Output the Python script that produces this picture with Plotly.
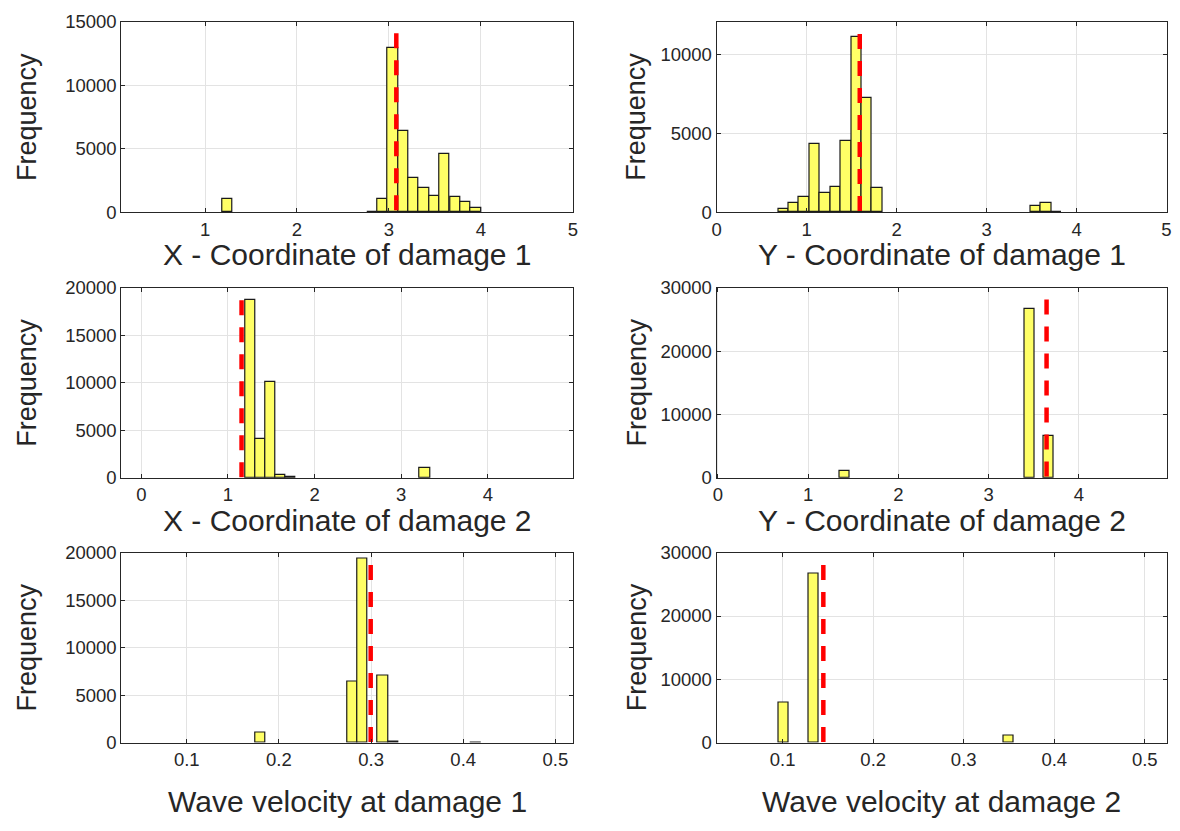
import plotly.graph_objects as go
from plotly.subplots import make_subplots

# ---------------- data ----------------
x1_centers = [1.244, 2.819, 2.931, 3.044, 3.156, 3.269, 3.381, 3.494, 3.606, 3.719, 3.831, 3.944]
x1_counts = [1025, 60, 1025, 12950, 6410, 2720, 1920, 1280, 4615, 1180, 850, 330]
x1_width = 0.1125
x1_true = 3.08
x1_line_top = 14100

y1_centers = [0.742, 0.858, 0.974, 1.090, 1.206, 1.322, 1.438, 1.553, 1.669, 1.785, 3.547, 3.664, 3.781]
y1_counts = [250, 575, 1006, 4312, 1232, 1600, 4538, 11088, 7207, 1520, 431, 575, 60]
y1_width = 0.116
y1_true = 1.591
y1_line_top = 11270

x2_centers = [1.255, 1.373, 1.490, 1.606, 1.724, 3.272]
x2_counts = [18700, 4090, 10090, 270, 140, 1090]
x2_width = 0.118
x2_true = 1.157
x2_line_top = 18700

y2_centers = [1.403, 3.453, 3.668]
y2_counts = [1180, 26720, 6560]
y2_width = 0.113
y2_true = 3.641
y2_line_top = 28150

v1_centers = [0.1799, 0.2801, 0.2908, 0.3128, 0.3240, 0.4137]
v1_counts = [1060, 6485, 19390, 7100, 100, 60]
v1_width = 0.0111
v1_true = 0.2996
v1_line_top = 18700

v2_centers = [0.1006, 0.1344, 0.3496]
v2_counts = [6350, 26625, 1075]
v2_width = 0.0108
v2_true = 0.1449
v2_line_top = 28060

titles = ["X - Coordinate of damage 1", "Y - Coordinate of damage 1",
          "X - Coordinate of damage 2", "Y - Coordinate of damage 2",
          "Wave velocity at damage 1", "Wave velocity at damage 2"]
y_label = "Frequency"

# ---------------- layout constants ----------------
PAGE_MARGIN = 8                      # default browser body margin
W, H = 1180 - 2 * PAGE_MARGIN, 831 - 2 * PAGE_MARGIN
# positions below are in page pixels
col_px = [(117.3, 572.7), (717.7, 1171.5)]
row_px = [(11.0, 206.5), (284.0, 479.0), (555.7, 751.0)]
title_y_px = [250, 523, 811]
ylab_x_px = [22, 637]

x_ranges = [[0.09, 5.0], [0.0, 5.0], [-0.23, 4.98], [-0.015, 4.97], [0.029, 0.519], [0.027, 0.524]]
x_ticks = [[1, 2, 3, 4, 5], [0, 1, 2, 3, 4, 5], [0, 1, 2, 3, 4], [0, 1, 2, 3, 4],
           [0.1, 0.2, 0.3, 0.4, 0.5], [0.1, 0.2, 0.3, 0.4, 0.5]]
y_ranges = [[0, 15000], [0, 12030], [0, 20000], [0, 30000], [0, 20000], [0, 30000]]
y_ticks = [[0, 5000, 10000, 15000], [0, 5000, 10000], [0, 5000, 10000, 15000, 20000],
           [0, 10000, 20000, 30000], [0, 5000, 10000, 15000, 20000], [0, 10000, 20000, 30000]]

panels = [
    (x1_centers, x1_counts, x1_width, x1_true, x1_line_top),
    (y1_centers, y1_counts, y1_width, y1_true, y1_line_top),
    (x2_centers, x2_counts, x2_width, x2_true, x2_line_top),
    (y2_centers, y2_counts, y2_width, y2_true, y2_line_top),
    (v1_centers, v1_counts, v1_width, v1_true, v1_line_top),
    (v2_centers, v2_counts, v2_width, v2_true, v2_line_top),
]

FONT = "Liberation Sans, Arial, Helvetica, sans-serif"
TXT = "#262626"


def px_x(p):
    return (p - PAGE_MARGIN) / W


def px_y(p):
    return 1 - (p - PAGE_MARGIN) / H


fig = make_subplots(rows=3, cols=2)

annotations = []
for i, (cx, cnt, wd, tv, top) in enumerate(panels):
    r, c = i // 2 + 1, i % 2 + 1
    fig.add_trace(go.Bar(x=cx, y=cnt, width=[wd] * len(cx),
                         marker=dict(color="rgb(255,255,102)",
                                     line=dict(color="#1a1a1a", width=1.2)),
                         showlegend=False, hoverinfo="x+y"), row=r, col=c)
    fig.add_trace(go.Scatter(x=[tv, tv], y=[top, 0], mode="lines",
                             line=dict(color="#ff0000", width=4.5, dash="15px,12px"),
                             showlegend=False), row=r, col=c)

    x0, x1 = col_px[c - 1]
    y0, y1 = row_px[r - 1]
    xd = [max(0, px_x(x0)), min(1, px_x(x1))]
    yd = [max(0, px_y(y1)), min(1, px_y(y0))]
    axis_common = dict(showline=True, mirror="ticks", linecolor=TXT, linewidth=1,
                       ticks="inside", ticklen=4, tickcolor=TXT, tickwidth=1,
                       showgrid=True, gridcolor="#e3e3e3", gridwidth=1, zeroline=False,
                       tickfont=dict(family=FONT, size=18.5, color=TXT))
    fig.update_xaxes(domain=xd, range=x_ranges[i], tickmode="array", tickvals=x_ticks[i],
                     ticktext=[f"{v:g}" for v in x_ticks[i]], row=r, col=c, **axis_common)
    fig.update_yaxes(domain=yd, range=y_ranges[i], tickmode="array", tickvals=y_ticks[i],
                     ticktext=[f"{v:d}" for v in y_ticks[i]], row=r, col=c, **axis_common)

    annotations.append(dict(text=titles[i], xref="paper", yref="paper",
                            x=px_x((x0 + x1) / 2), y=px_y(title_y_px[r - 1]),
                            xanchor="center", yanchor="middle", showarrow=False,
                            font=dict(family=FONT, size=30, color=TXT)))
    annotations.append(dict(text=y_label, xref="paper", yref="paper",
                            x=px_x(ylab_x_px[c - 1]), y=px_y((y0 + y1) / 2),
                            xanchor="center", yanchor="middle", showarrow=False, textangle=-90,
                            font=dict(family=FONT, size=27, color=TXT)))

fig.update_layout(width=W, height=H, autosize=False,
                  margin=dict(l=0, r=0, t=0, b=0),
                  paper_bgcolor="white", plot_bgcolor="white",
                  bargap=0, annotations=annotations)

fig.write_html("out.html", config={"displayModeBar": False})
